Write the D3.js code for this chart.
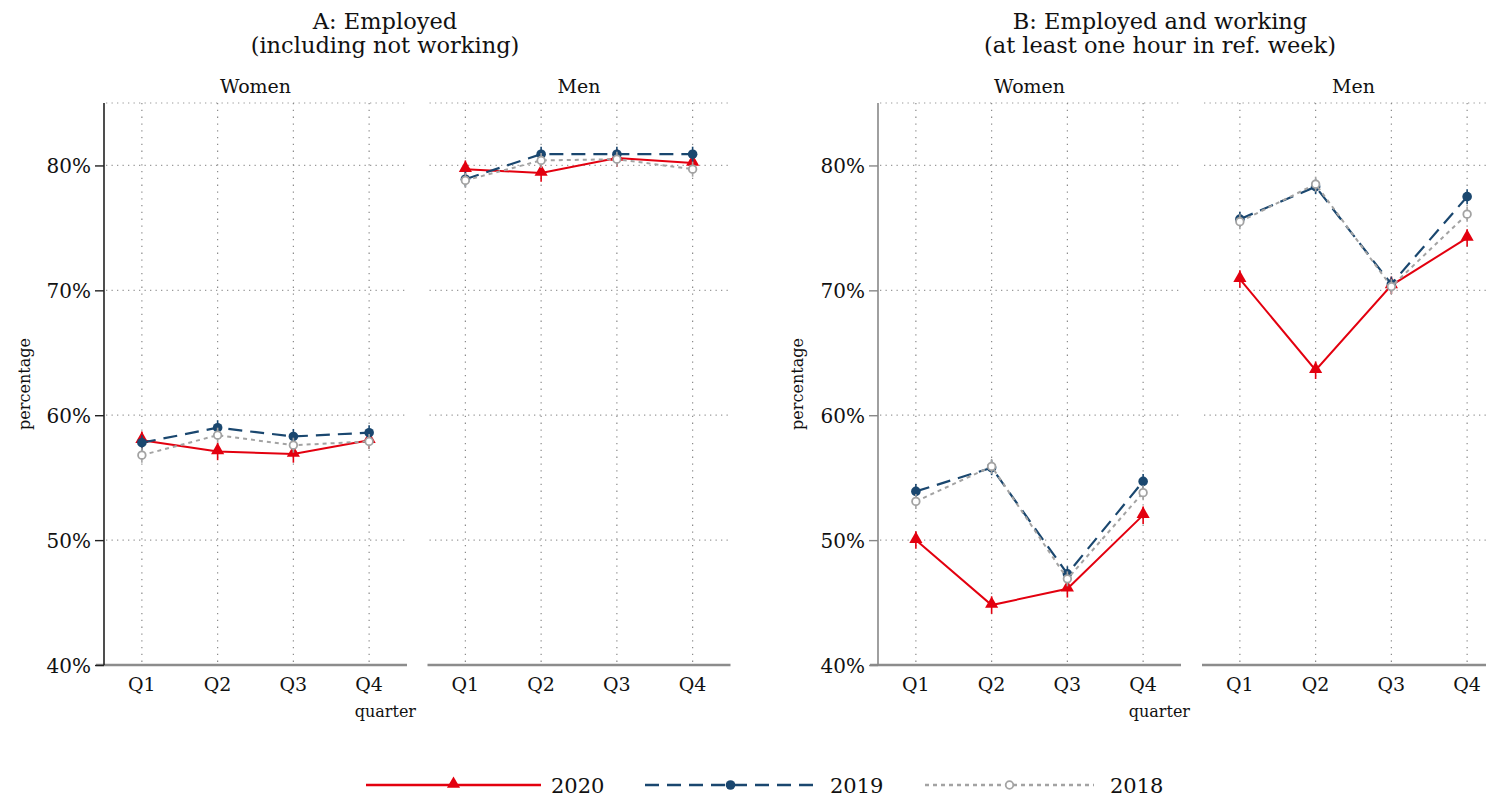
<!DOCTYPE html>
<html>
<head>
<meta charset="utf-8">
<script src="https://cdn.jsdelivr.net/npm/d3@7/dist/d3.min.js"></script>
<style>
  html, body { margin: 0; padding: 0; background: #fff; }
  svg { display: block; }
  text { font-family: "DejaVu Serif", "Liberation Serif", serif; fill: #111; }
</style>
</head>
<body>
<svg id="chart" width="1486" height="799"></svg>
<script>
// Quarters on the x axis, y ticks in percent
const quarters = ["Q1", "Q2", "Q3", "Q4"];
const yTicks = [40, 50, 60, 70, 80];
const yGrid = [50, 60, 70, 80, 85];
const years = ["2020", "2019", "2018"];

// Panel A: employed (including not working), percentage
const empWomen2020 = [58.0, 57.1, 56.9, 58.0];
const empWomen2019 = [57.8, 59.0, 58.3, 58.6];
const empWomen2018 = [56.8, 58.4, 57.6, 57.9];
const empMen2020 = [79.7, 79.4, 80.6, 80.2];
const empMen2019 = [78.9, 80.9, 80.9, 80.9];
const empMen2018 = [78.8, 80.4, 80.5, 79.7];

// Panel B: employed and working at least one hour in reference week
const workWomen2020 = [50.0, 44.8, 46.1, 52.0];
const workWomen2019 = [53.9, 55.8, 47.3, 54.7];
const workWomen2018 = [53.1, 55.9, 46.9, 53.8];
const workMen2020 = [70.9, 63.6, 70.4, 74.2];
const workMen2019 = [75.7, 78.3, 70.5, 77.5];
const workMen2018 = [75.5, 78.5, 70.3, 76.1];

// Half-width of the confidence intervals, per year (2020, 2019, 2018)
const ciHalf = [0.7, 0.6, 0.6];

const svg = d3.select("#chart");

const yTop = 103, yBottom = 665;
const y = d3.scaleLinear().domain([40, 85]).range([yBottom, yTop]);

const styles = {
  "2020": { color: "#e3000f", width: 2, dash: null, marker: "triangle" },
  "2019": { color: "#1a476f", width: 2.2, dash: "14,8", marker: "dot" },
  "2018": { color: "#a3a3a3", width: 2, dash: "4,4", marker: "ring" }
};

const groups = [
  {
    title: ["A: Employed", "(including not working)"],
    titleX: 385,
    axisX: 104,
    axisColor: "#222",
    axisLabelX: 24,
    quarterEnd: 416,
    panels: [
      { name: "Women", x0: 104, x1: 407, series: [empWomen2020, empWomen2019, empWomen2018] },
      { name: "Men", x0: 427.5, x1: 730.5, series: [empMen2020, empMen2019, empMen2018] }
    ]
  },
  {
    title: ["B: Employed and working", "(at least one hour in ref. week)"],
    titleX: 1160,
    axisX: 878,
    axisColor: "#888",
    axisLabelX: 797,
    quarterEnd: 1190,
    panels: [
      { name: "Women", x0: 878, x1: 1181, series: [workWomen2020, workWomen2019, workWomen2018] },
      { name: "Men", x0: 1202, x1: 1505, series: [workMen2020, workMen2019, workMen2018] }
    ]
  }
];

function drawMarker(g, kind, cx, cy, color) {
  if (kind === "triangle") {
    g.append("path")
      .attr("d", d3.symbol().type(d3.symbolTriangle).size(75)())
      .attr("transform", `translate(${cx},${cy - 1})`)
      .attr("fill", color);
  } else if (kind === "dot") {
    g.append("circle").attr("cx", cx).attr("cy", cy).attr("r", 4.8).attr("fill", color);
  } else {
    g.append("circle").attr("cx", cx).attr("cy", cy).attr("r", 3.8)
      .attr("fill", "#fff").attr("stroke", color).attr("stroke-width", 1.8);
  }
}

groups.forEach(grp => {
  // Titles
  grp.title.forEach((t, i) => {
    svg.append("text").attr("x", grp.titleX).attr("y", 29 + i * 24)
      .attr("text-anchor", "middle").attr("font-size", 22.5).text(t);
  });

  grp.panels.forEach((p, pi) => {
    const x = d3.scalePoint().domain(quarters).range([p.x0, p.x1]).padding(0.5);
    const g = svg.append("g");

    // Panel label
    g.append("text").attr("x", (p.x0 + p.x1) / 2).attr("y", 93)
      .attr("text-anchor", "middle").attr("font-size", 19).text(p.name);

    // Dotted grid
    g.selectAll("line.hgrid").data(yGrid).enter().append("line")
      .attr("x1", p.x0 + 2).attr("x2", p.x1 - 2)
      .attr("y1", d => y(d)).attr("y2", d => y(d))
      .attr("stroke", "#9a9a9a").attr("stroke-width", 1.2).attr("stroke-dasharray", "1.3,4.2");
    g.selectAll("line.vgrid").data(quarters).enter().append("line")
      .attr("x1", d => x(d)).attr("x2", d => x(d))
      .attr("y1", yTop).attr("y2", yBottom)
      .attr("stroke", "#8a8a8a").attr("stroke-width", 1.2).attr("stroke-dasharray", "1.3,5.5");

    // X axis
    g.append("line")
      .attr("x1", pi === 0 ? p.x0 - 8 : p.x0).attr("x2", p.x1)
      .attr("y1", yBottom).attr("y2", yBottom)
      .attr("stroke", "#8c8c8c").attr("stroke-width", 2.6);
    g.selectAll("text.q").data(quarters).enter().append("text")
      .attr("x", d => x(d)).attr("y", 691)
      .attr("text-anchor", "middle").attr("font-size", 19).text(d => d);

    // Series: 2020 first, 2018 on top
    p.series.forEach((vals, si) => {
      const st = styles[years[si]];
      const line = d3.line().x((d, i) => x(quarters[i])).y(d => y(d));
      g.append("path").datum(vals).attr("d", line)
        .attr("fill", "none").attr("stroke", st.color).attr("stroke-width", st.width)
        .attr("stroke-dasharray", st.dash);
      vals.forEach((v, i) => {
        const cx = x(quarters[i]);
        g.append("line").attr("x1", cx).attr("x2", cx)
          .attr("y1", y(v - ciHalf[si])).attr("y2", y(v + ciHalf[si]))
          .attr("stroke", st.color).attr("stroke-width", 1.6);
        drawMarker(g, st.marker, cx, y(v), st.color);
      });
    });
  });

  // Y axis
  const ax = svg.append("g").attr("transform", `translate(${grp.axisX},0)`)
    .call(d3.axisLeft(y).tickValues(yTicks).tickSize(9).tickPadding(4).tickFormat(d => d + "%"));
  ax.select(".domain").attr("d", `M0,${yTop}H0V${yBottom}`)
    .attr("stroke", grp.axisColor).attr("stroke-width", 1.6);
  ax.selectAll(".tick line").attr("stroke", grp.axisColor).attr("stroke-width", 1.4);
  ax.selectAll(".tick text").attr("font-family", "DejaVu Serif").attr("font-size", 20)
    .attr("fill", "#111").attr("dy", "0.36em");
  ax.append("line").attr("x1", 0).attr("x2", 0).attr("y1", yTop).attr("y2", yTop)
    .attr("stroke", grp.axisColor);

  // Axis titles
  svg.append("text")
    .attr("transform", `translate(${grp.axisLabelX},384) rotate(-90)`)
    .attr("text-anchor", "middle").attr("dy", "0.35em").attr("font-size", 16).text("percentage");
  svg.append("text").attr("x", grp.quarterEnd).attr("y", 717)
    .attr("text-anchor", "end").attr("font-size", 16).text("quarter");
});

// Legend
const legend = [
  { year: "2020", x0: 366, x1: 541, tx: 551 },
  { year: "2019", x0: 645, x1: 816, tx: 830 },
  { year: "2018", x0: 925, x1: 1094, tx: 1110 }
];
const lg = svg.append("g");
legend.forEach(l => {
  const st = styles[l.year];
  lg.append("line").attr("x1", l.x0).attr("x2", l.x1).attr("y1", 785).attr("y2", 785)
    .attr("stroke", st.color).attr("stroke-width", st.width + 0.4).attr("stroke-dasharray", st.dash);
  drawMarker(lg, st.marker, (l.x0 + l.x1) / 2, 785, st.color);
  lg.append("text").attr("x", l.tx).attr("y", 785).attr("dy", "0.36em")
    .attr("font-size", 21).text(l.year);
});
</script>
</body>
</html>
